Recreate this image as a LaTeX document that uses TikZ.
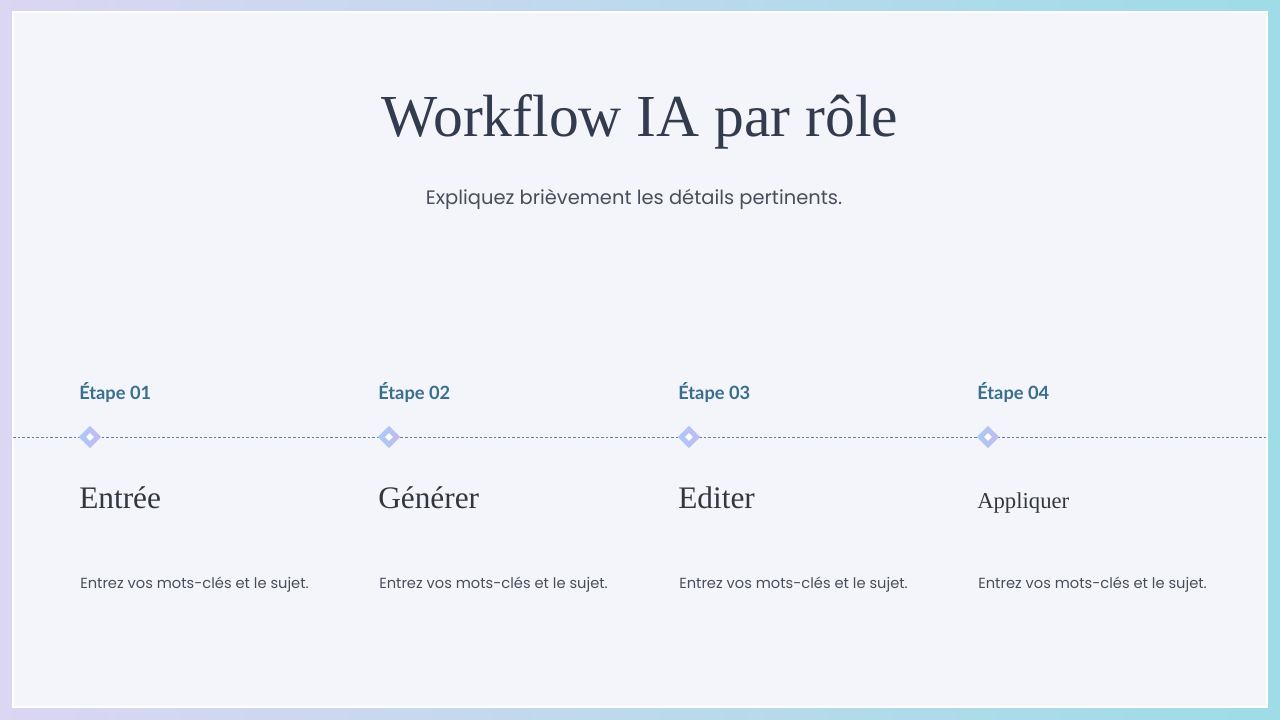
\documentclass[tikz,border=0pt]{standalone}
\usepackage{fontspec}
\setmainfont{Liberation Serif}
\newfontfamily\bodysans{Poppins}
\newfontfamily\stepsans{Lato}
\usetikzlibrary{shapes.geometric}
\definecolor{bgL}{HTML}{DBD6F2}
\definecolor{bgR}{HTML}{9EDCE8}
\definecolor{panel}{HTML}{F4F5FA}
\definecolor{titlec}{HTML}{333B4F}
\definecolor{subc}{HTML}{4A4E5C}
\definecolor{stepc}{HTML}{3A6E8E}
\definecolor{headc}{HTML}{33363F}
\definecolor{linec}{HTML}{5F8499}
\definecolor{diaA}{HTML}{A9CBF7}
\definecolor{diaB}{HTML}{C3B9F1}
\tikzset{
  steplbl/.style={anchor=base west, inner sep=0pt, text=stepc, font=\stepsans\bfseries\fontsize{13.7pt}{16pt}\selectfont},
  headlbl/.style={anchor=base west, inner sep=0pt, text=headc},
  bodylbl/.style={anchor=base west, inner sep=0pt, text=subc, font=\bodysans\fontsize{11pt}{13pt}\selectfont},
  marker/.style={diamond, minimum width=17pt, minimum height=17pt, inner sep=0pt, left color=diaA, right color=diaB, draw=none},
  markerin/.style={diamond, minimum width=6pt, minimum height=6pt, inner sep=0pt, fill=white, draw=none}
}
\begin{document}
\begin{tikzpicture}[x=0.75pt,y=-0.75pt]
\useasboundingbox (0,0) rectangle (1280,720);
\shade[left color=bgL, right color=bgR] (0,0) rectangle (1280,720);
\fill[panel, draw=white, line width=0.8pt] (13,12) rectangle (1267,707);
\node[anchor=base, inner sep=0pt, text=titlec, font=\fontsize{44.7pt}{50pt}\selectfont] (title) at (640,137) {Workflow IA par rôle};
\node[anchor=base, inner sep=0pt, text=subc, font=\bodysans\fontsize{14.6pt}{18pt}\selectfont] (sub) at (634,205) {Expliquez brièvement les détails pertinents.};
\coordinate (lstart) at (13,437);
\coordinate (lend) at (1267,437);
\draw[linec, line width=0.6pt, dash pattern=on 2pt off 1.5pt] (lstart) -- (lend);
\foreach \i/\x/\h/\hs in {1/79/Entrée/23.5pt,2/378/Générer/23.5pt,3/678/Editer/23.5pt,4/977/Appliquer/17pt}{
  \node[steplbl] (s\i) at (\x,399) {Étape 0\i};
  \node[marker] (m\i) at (\x+11,437) {};
  \node[markerin] (mi\i) at (m\i) {};
  \node[headlbl, font=\fontsize{\hs}{26pt}\selectfont] (h\i) at (\x,508) {\h};
  \node[bodylbl] (b\i) at (\x+1,588) {Entrez vos mots-clés et le sujet.};
}
\end{tikzpicture}
\end{document}
